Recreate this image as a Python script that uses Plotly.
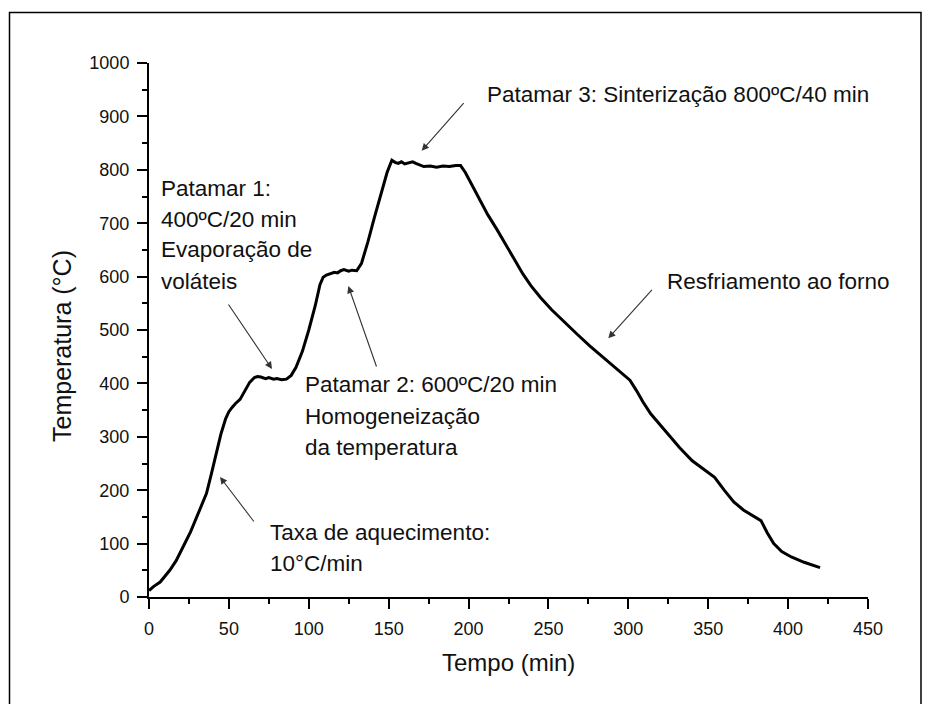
import plotly.graph_objects as go

# ---- data ----
tempo_min = [0, 3, 7, 10, 13, 17, 20, 23, 26, 30, 33, 36, 39, 42, 45, 48, 50, 52, 54, 57, 60,
             63, 66, 68, 70, 73, 75, 78, 80, 83, 86, 89, 92, 96, 100, 104, 107, 109, 111,
             113, 116, 118, 120, 122, 125, 127, 130, 133, 137, 141, 145, 149, 152, 154,
             156, 158, 160, 163, 165, 167, 170, 172, 176, 180, 184, 188, 192, 195, 198,
             202, 207, 212, 218, 224, 229, 234, 239, 245, 252, 260, 268, 276, 284, 292, 298,
             301, 305, 309, 314, 322, 332, 340, 348, 354, 360, 366, 372, 378, 383, 387, 391,
             396, 402, 410, 415, 420]
temperatura_c = [12, 20, 28, 38, 50, 68, 85, 104, 122, 150, 170, 194, 230, 268, 305, 334, 347, 355, 362, 370, 386,
                 402, 411, 413, 412, 409, 411, 408, 409, 407, 408, 415, 430, 460, 500, 545, 585, 599, 603,
                 605, 608, 607, 611, 613, 610, 612, 611, 625, 665, 710, 755, 795, 818, 814,
                 812, 815, 811, 813, 815, 812, 809, 806, 807, 805, 807, 806, 808, 808, 795,
                 772, 742, 716, 687, 657, 630, 605, 583, 561, 538, 514, 492, 470, 450, 430, 415,
                 406, 387, 366, 343, 315, 280, 255, 237, 224, 200, 178, 163, 152, 143, 120, 100,
                 85, 75, 65, 60, 55]

x_ticks = [0, 50, 100, 150, 200, 250, 300, 350, 400, 450]
y_ticks = [0, 100, 200, 300, 400, 500, 600, 700, 800, 900, 1000]

x_title = "Tempo (min)"
y_title = "Temperatura (°C)"

# annotation texts (lines)
txt_p1 = ["Patamar 1:", "400ºC/20 min", "Evaporação de", "voláteis"]
txt_p2 = ["Patamar 2: 600ºC/20 min", "Homogeneização", "da temperatura"]
txt_p3 = ["Patamar 3: Sinterização 800ºC/40 min"]
txt_taxa = ["Taxa de aquecimento:", "10°C/min"]
txt_resf = ["Resfriamento ao forno"]

# ---- layout geometry (pixels) ----
W, H = 931, 704
L, R, T, B = 149, 63, 63, 107
X0, X1 = 0, 450
Y0, Y1 = 0, 1000
PW = W - L - R
PH = H - T - B


def px_to_data(px, py):
    return (X0 + (px - L) / PW * (X1 - X0), Y0 + (H - B - py) / PH * (Y1 - Y0))


def px_to_paper(px, py):
    return ((px - L) / PW, (H - B - py) / PH)


FONT = "Liberation Sans, Arial, sans-serif"

fig = go.Figure()
fig.add_trace(go.Scatter(x=tempo_min, y=temperatura_c, mode="lines",
                         line=dict(color="black", width=3), hoverinfo="skip",
                         showlegend=False))

annotations = []


def add_lines(lines, left_px, first_y_px, step):
    for i, s in enumerate(lines):
        x, y = px_to_paper(left_px, first_y_px + i * step)
        annotations.append(dict(text=s, x=x, y=y, xref="paper", yref="paper",
                                xanchor="left", yanchor="middle", showarrow=False,
                                font=dict(family=FONT, size=22.5, color="#111")))


add_lines(txt_p1, 159, 188, 31)
add_lines(txt_p2, 303, 385, 31)
add_lines(txt_p3, 485, 94, 31)
add_lines(txt_taxa, 268, 532, 31)
add_lines(txt_resf, 665, 281, 31)


def add_arrow(head_px, tail_px):
    hx, hy = px_to_data(*head_px)
    tx, ty = px_to_data(*tail_px)
    annotations.append(dict(text="", x=hx, y=hy, ax=tx, ay=ty, xref="x", yref="y",
                            axref="x", ayref="y", showarrow=True, arrowhead=2,
                            arrowsize=1.3, arrowwidth=1.1, arrowcolor="#333"))


add_arrow((272, 369), (227.5, 303))
add_arrow((220, 477), (255, 523))
add_arrow((348.3, 286), (377, 368))
add_arrow((421.7, 150.7), (465, 101.7))
add_arrow((608.3, 338.3), (653.3, 288.3))

# axis titles
ax_x, ax_y = px_to_paper(508.5, 662)
annotations.append(dict(text=x_title, x=ax_x, y=ax_y, xref="paper", yref="paper",
                        xanchor="center", yanchor="middle", showarrow=False,
                        font=dict(family=FONT, size=24, color="#111")))
ay_x, ay_y = px_to_paper(62, 346)
annotations.append(dict(text=y_title, x=ay_x, y=ay_y, xref="paper", yref="paper",
                        xanchor="center", yanchor="middle", showarrow=False, textangle=-90,
                        font=dict(family=FONT, size=25, color="#111")))

# outer frame
fx0, fy0 = px_to_paper(9.5, 12.5)
fx1, fy1 = px_to_paper(921, 760)
shapes = [dict(type="rect", xref="paper", yref="paper", x0=fx0, x1=fx1, y0=fy1, y1=fy0,
               line=dict(color="black", width=1.5), layer="above")]

axis_common = dict(showline=True, linecolor="black", linewidth=2, mirror=False,
                   showgrid=False, zeroline=False, ticks="outside", ticklen=10,
                   tickwidth=2, tickcolor="black",
                   tickfont=dict(family=FONT, size=18, color="#111"))

fig.update_layout(
    width=W, height=H,
    margin=dict(l=L, r=R, t=T, b=B),
    paper_bgcolor="white", plot_bgcolor="white",
    xaxis=dict(range=[X0, X1], tickvals=x_ticks, ticktext=[str(v) for v in x_ticks],
               minor=dict(ticks="outside", ticklen=5, tickwidth=2, tickcolor="black",
                          dtick=25, tick0=0),
               ticklabelstandoff=4, **axis_common),
    yaxis=dict(range=[Y0, Y1], tickvals=y_ticks, ticktext=[str(v) for v in y_ticks],
               minor=dict(ticks="outside", ticklen=5, tickwidth=2, tickcolor="black",
                          dtick=50, tick0=0),
               ticklabelstandoff=4, **axis_common),
    annotations=annotations,
    shapes=shapes,
    showlegend=False,
)

fig.write_html("out.html")
